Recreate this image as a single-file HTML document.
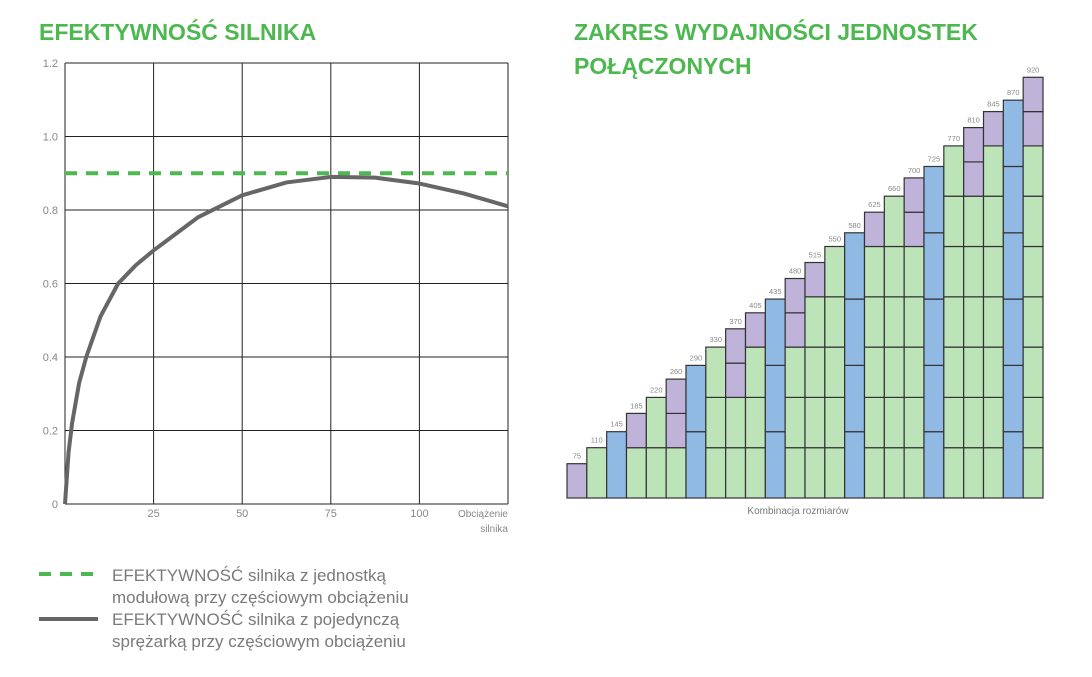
<!DOCTYPE html>
<html><head><meta charset="utf-8"><style>
body{margin:0;background:#fff;width:1092px;height:677px;overflow:hidden;font-family:"Liberation Sans",sans-serif;position:relative}
.t{position:absolute;color:#4cb84f;font-weight:bold;font-size:23px;line-height:34px}
.lg{position:absolute;left:112px;font-size:17px;color:#7a7a7a;line-height:22px}
</style></head><body>
<div class="t" style="left:39px;top:15px">EFEKTYWNOŚĆ SILNIKA</div>
<div class="t" style="left:574px;top:15px;width:480px">ZAKRES WYDAJNOŚCI JEDNOSTEK POŁĄCZONYCH</div>
<svg id="left" width="540" height="560" style="position:absolute;left:0;top:0"></svg>
<svg id="right" width="560" height="530" style="position:absolute;left:540px;top:0"></svg>
<svg style="position:absolute;left:0;top:560px" width="110" height="80">
<line x1="39" y1="14" x2="98" y2="14" stroke="#4cb84f" stroke-width="4" stroke-dasharray="12,9"/>
<line x1="39" y1="59" x2="98" y2="59" stroke="#666" stroke-width="4"/>
</svg>
<div class="lg" style="top:565px">EFEKTYWNOŚĆ silnika z jednostką<br>modułową przy częściowym obciążeniu</div>
<div class="lg" style="top:609px">EFEKTYWNOŚĆ silnika z pojedynczą<br>sprężarką przy częściowym obciążeniu</div>
<script>
const NS="http://www.w3.org/2000/svg";
function mk(p,tag,a){const e=document.createElementNS(NS,tag);for(const k in a)e.setAttribute(k,a[k]);p.appendChild(e);return e;}
// left chart data
const xTicks=[25,50,75,100];
const yTicks=[0,0.2,0.4,0.6,0.8,1.0,1.2];
const modularEff=0.9;
const loadPts=[0,1,2,4,6,10,15,20,25,37.5,50,62.5,75,87.5,100,112.5,125];
const effPts=[0,0.14,0.22,0.33,0.4,0.51,0.6,0.65,0.69,0.78,0.84,0.875,0.89,0.888,0.872,0.845,0.81];
const L=document.getElementById('left');
const xs=v=>65+v*(508-65)/125, ys=v=>504-v*(504-63)/1.2;
[0,25,50,75,100,125].forEach(v=>{const l=mk(L,'line',{x1:xs(v),x2:xs(v),y1:63,y2:504,stroke:'#222','stroke-width':1});

});
yTicks.forEach(v=>{const l=mk(L,'line',{x1:65,x2:508,y1:ys(v),y2:ys(v),stroke:'#222','stroke-width':1});


const t=mk(L,'text',{x:58,y:ys(v)+4,'text-anchor':'end','font-size':11,fill:'#888'});t.textContent=v===0?'0':v.toFixed(1);

});
xTicks.forEach(v=>{const t=mk(L,'text',{x:xs(v),y:517,'text-anchor':'middle','font-size':11,fill:'#888'});t.textContent=v;

});
const xt=mk(L,'text',{x:508,y:517,'text-anchor':'end','font-size':10,fill:'#888'});xt.innerHTML='<tspan x="508">Obciążenie</tspan><tspan x="508" dy="15">silnika</tspan>';


const dl=mk(L,'line',{x1:65,x2:508,y1:ys(modularEff),y2:ys(modularEff),stroke:'#4cb84f','stroke-width':4,'stroke-dasharray':'12,9'});


let d='';loadPts.forEach((v,i)=>{d+=(i?'L':'M')+xs(v)+','+ys(effPts[i]);});
const cl=mk(L,'path',{d:d,fill:'none',stroke:'#666','stroke-width':4,'stroke-linejoin':'round'});


// right chart data
const moduleSizes={P:75,G:110,B:145};
const combos=['P','G','B','GP','GG','GPP','BB','GGG','GGPP','GGGP','BBB','GGGPP','GGGGP','GGGGG','BBBB','GGGGGP','GGGGGG','GGGGGPP','BBBBB','GGGGGGG','GGGGGGPP','GGGGGGGP','BBBBBB','GGGGGGGPP'];
const totals=[75,110,145,185,220,260,290,330,370,405,435,480,515,550,580,625,660,700,725,770,810,845,870,920];
const colors={P:'#bfb3da',G:'#bde3b8',B:'#90b9e4'};
const R=document.getElementById('right');
const x0=567-540,bw=(1043-567)/24,base=498,sc=50.3/110;
combos.forEach((c,i)=>{let y=base;[...c].forEach(m=>{const h=moduleSizes[m]*sc;y-=h;
const r=mk(R,'rect',{x:x0+i*bw,y:y,width:bw,height:h,fill:colors[m],stroke:'#333','stroke-width':1.2});

});
const t=mk(R,'text',{x:x0+i*bw+bw/2,y:y-5,'text-anchor':'middle','font-size':7.5,fill:'#888'});t.textContent=totals[i];

});
const at=mk(R,'text',{x:798-540,y:514,'text-anchor':'middle','font-size':10,fill:'#777'});at.textContent='Kombinacja rozmiarów';


</script>
</body></html>
